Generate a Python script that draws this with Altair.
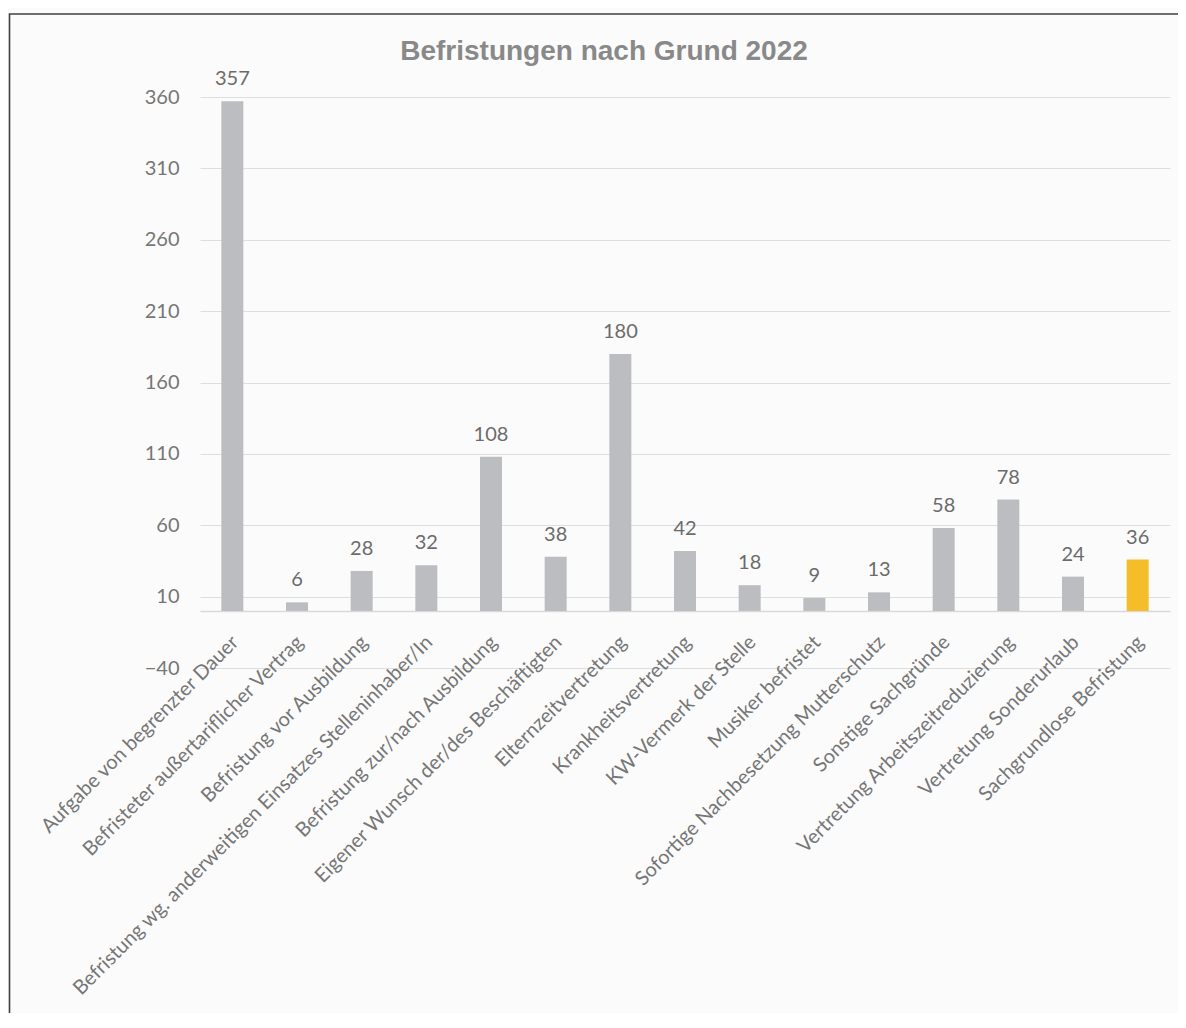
import altair as alt
import pandas as pd

categories = [
    "Aufgabe von begrenzter Dauer",
    "Befristeter außertariflicher Vertrag",
    "Befristung vor Ausbildung",
    "Befristung wg. anderweitigen Einsatzes Stelleninhaber/In",
    "Befristung zur/nach Ausbildung",
    "Eigener Wunsch der/des Beschäftigten",
    "Elternzeitvertretung",
    "Krankheitsvertretung",
    "KW-Vermerk der Stelle",
    "Musiker befristet",
    "Sofortige Nachbesetzung Mutterschutz",
    "Sonstige Sachgründe",
    "Vertretung Arbeitszeitreduzierung",
    "Vertretung Sonderurlaub",
    "Sachgrundlose Befristung",
]
values = [357, 6, 28, 32, 108, 38, 180, 42, 18, 9, 13, 58, 78, 24, 36]
highlight = [False] * 14 + [True]
y_ticks = [-40, 10, 60, 110, 160, 210, 260, 310, 360]

df = pd.DataFrame({"Grund": categories, "Anzahl": values, "hl": highlight})

W, H = 970, 571
Y_MIN, Y_MAX = -40, 360
zero_offset = -H * (0 - Y_MIN) / (Y_MAX - Y_MIN)

FONT = "Lato"
LABEL_COLOR = "#6b6b6b"

x_enc = alt.X(
    "Grund:N",
    sort=categories,
    title=None,
    scale=alt.Scale(paddingInner=0.66, paddingOuter=0.33),
    axis=alt.Axis(
        labelAngle=-45,
        labelAlign="right",
        labelBaseline="middle",
        labelFont=FONT,
        labelFontSize=20,
        labelColor="#767676",
        labelPadding=28,
        labelOffset=3,
        labelLimit=1000,
        ticks=False,
        tickSize=0,
        domainColor="#d9d9d9",
        domainWidth=1.5,
        offset=zero_offset,
        grid=False,
    ),
)
y_enc = alt.Y(
    "Anzahl:Q",
    title=None,
    scale=alt.Scale(domain=[Y_MIN, Y_MAX], nice=False, zero=False),
    axis=alt.Axis(
        values=y_ticks,
        labelFont=FONT,
        labelFontSize=20,
        labelColor="#767676",
        labelPadding=21,
        ticks=False,
        tickSize=0,
        domain=False,
        grid=True,
        gridColor="#dedede",
        gridWidth=1.2,
    ),
)

frame = alt.Chart(pd.DataFrame({"f": [0]})).mark_rect(
    fillOpacity=0, stroke="#404040", strokeWidth=1.6
).encode(
    x=alt.value(-190.5), x2=alt.value(1000), y=alt.value(-83), y2=alt.value(1000)
)

bars = alt.Chart(df).mark_bar(size=22).encode(
    x=x_enc,
    y=y_enc,
    y2=alt.datum(0),
    color=alt.Color(
        "hl:N",
        scale=alt.Scale(domain=[False, True], range=["#bcbdc1", "#f5bd2a"]),
        legend=None,
    ),
)

labels = alt.Chart(df).mark_text(
    baseline="alphabetic", dy=-16, font=FONT, fontSize=20, color=LABEL_COLOR
).encode(
    x=alt.X("Grund:N", sort=categories),
    y=alt.Y("Anzahl:Q"),
    text=alt.Text("Anzahl:Q"),
)

chart = alt.layer(bars, labels, frame).properties(
    width=W,
    height=H,
    title=alt.TitleParams(
        "Befristungen nach Grund 2022",
        font="Liberation Sans",
        fontSize=28,
        fontWeight="bold",
        color="#898989",
        anchor="middle",
        frame="group",
        baseline="alphabetic",
        dx=-81,
        offset=-75,
    ),
    padding={"left": 192, "top": 89, "right": 8, "bottom": 345},
    autosize=alt.AutoSizeParams(type="none"),
    background="#fbfbfb",
).configure_view(stroke=None)

chart.save("out.html", embed_options={"renderer": "svg", "actions": False})
